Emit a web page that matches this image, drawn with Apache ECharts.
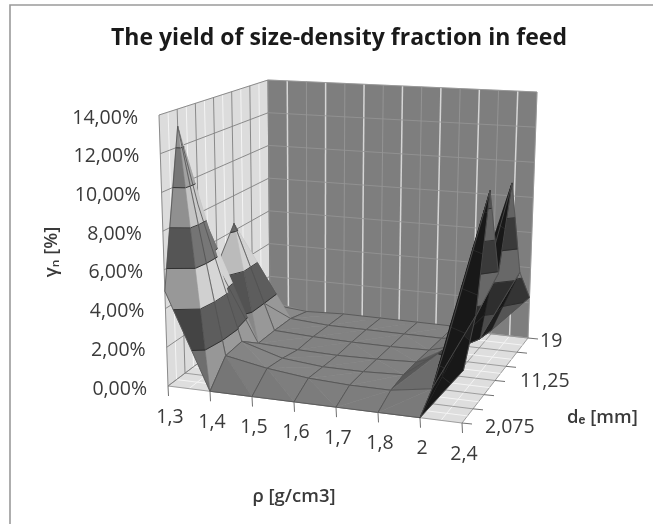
<!DOCTYPE html>
<html>
<head>
<meta charset="utf-8">
<style>html,body{margin:0;padding:0;background:#fff}#c{width:653px;height:524px;filter:blur(0.45px)}</style>
<script src="https://cdn.jsdelivr.net/npm/echarts@6/dist/echarts.min.js"></script>
</head>
<body>
<div id="c"></div>
<script>
// --- data -------------------------------------------------------------
const titleText = 'The yield of size-density fraction in feed';
const rhoLabels = ['1,3','1,4','1,5','1,6','1,7','1,8','2','2,4'];
const depthLabels = ['2,075','','','11,25','','','19'];
const zTickLabels = ['0,00%','2,00%','4,00%','6,00%','8,00%','10,00%','12,00%','14,00%'];
// yield [%], one array per size class, front row first; columns follow rhoLabels
const row0 = [4.9, 0, 0, 0, 0, 0, 0, 2.8];
const row1 = [13.1, 1.2, 0.8, 0.55, 0.45, 0.45, 0.8, 5];
const row2 = [8.5, 1.3, 0.65, 0.45, 0.45, 0.55, 2.2, 11.1];
const row3 = [4.6, 0.5, 0.4, 0.35, 0.4, 0.5, 1.2, 5.9];
const row4 = [6.4, 0.5, 0.4, 0.35, 0.35, 0.4, 1, 10.2];
const row5 = [1.5, 0.45, 0.3, 0.3, 0.3, 0.3, 0.5, 4.5];
const row6 = [0.3, 0.1, 0.2, 0.2, 0.2, 0.2, 0.2, 2.3];
const rows = [row0,row1,row2,row3,row4,row5,row6];

// --- camera: screen position of the plot box corners ------------------
const floorCorners = {fl:[168,386], fr:[462,423], bl:[270,309], br:[528,338]};
const topCorners   = {fl:[159,115], fr:[469,160], bl:[268,80],  br:[537,92]};
const zMax = 14;
const nI = rhoLabels.length-1, nJ = depthLabels.length-1;
const bandGrey = [130,80,180,100,170,140,170];
const bandStep = 2;

function bil(c,u,v){
  return [0,1].map(k=>c.fl[k]*(1-u)*(1-v)+c.fr[k]*u*(1-v)+c.bl[k]*(1-u)*v+c.br[k]*u*v);
}
function proj(i,j,z){
  const u=i/nI,v=j/nJ,f=bil(floorCorners,u,v),t=bil(topCorners,u,v),h=z/zMax;
  return [f[0]+(t[0]-f[0])*h,f[1]+(t[1]-f[1])*h];
}
function clipZ(poly,level,keepAbove){
  const out=[];
  for(let k=0;k<poly.length;k++){
    const a=poly[k],b=poly[(k+1)%poly.length];
    const ai=keepAbove?a[2]>=level:a[2]<=level, bi=keepAbove?b[2]>=level:b[2]<=level;
    if(ai)out.push(a);
    if(ai!==bi){const t=(level-a[2])/(b[2]-a[2]);out.push([a[0]+(b[0]-a[0])*t,a[1]+(b[1]-a[1])*t,level]);}
  }
  return out;
}
function shade(tri,base){
  const s=p=>[p[0]/nI,p[1]/nJ*0.8,p[2]/zMax*0.5];
  const A=s(tri[0]),B=s(tri[1]),C=s(tri[2]);
  const e=[B[0]-A[0],B[1]-A[1],B[2]-A[2]],g=[C[0]-A[0],C[1]-A[1],C[2]-A[2]];
  let n=[e[1]*g[2]-e[2]*g[1],e[2]*g[0]-e[0]*g[2],e[0]*g[1]-e[1]*g[0]];
  const L=Math.hypot(n[0],n[1],n[2])||1;n=n.map(x=>x/L);if(n[2]<0)n=n.map(x=>-x);
  let f;
  if(n[0]<0){
    const away=-n[0]+Math.max(0,-n[1])*0.5;
    f=Math.max(0,1-1.3*Math.pow(away,1.5));
    if(n[1]>0.15)f=Math.max(f,0.58);       // far side of a ridge
  }else{
    f=1+0.2*n[0]+0.3*Math.min(0,n[1]);
  }
  const v=Math.min(225,Math.max(24,Math.round(base*f)));
  return 'rgb('+v+','+v+','+v+')';
}
const Z=(i,j)=>rows[j][i];
const cells=[];
for(let j=nJ-1;j>=0;j--)for(let i=0;i<nI;i++)cells.push([i,j]);

function renderCell(params,api){
  const i=api.value(0),j=api.value(1);
  const p00=[i,j,Z(i,j)],p10=[i+1,j,Z(i+1,j)],p01=[i,j+1,Z(i,j+1)],p11=[i+1,j+1,Z(i+1,j+1)];
  const scr=p=>api.coord(proj(p[0],p[1],p[2]));
  const maxZ=Math.max(p00[2],p10[2],p01[2],p11[2]);
  const useMain=(p00[2]===maxZ||p11[2]===maxZ);
  let tris=useMain?[[p00,p10,p11],[p00,p11,p01]]:[[p00,p10,p01],[p10,p11,p01]];
  const key=t=>t.reduce((s,p)=>s+p[1]/nJ-0.3*p[0]/nI,0);
  tris.sort((a,b)=>key(b)-key(a));
  const children=[];
  tris.forEach(tri=>{
    bandGrey.forEach((g,b)=>{
      const lo=b*bandStep,hi=(b+1)*bandStep;
      let poly=clipZ(clipZ(tri,lo,true),hi,false);
      if(poly.length<3)return;
      const col=shade(tri,g);
      children.push({type:'polygon',shape:{points:poly.map(scr)},style:{fill:col,stroke:col,lineWidth:0.6}});
    });
    for(let b=1;b<bandGrey.length;b++){
      const L=b*bandStep,seg=[];
      for(let k=0;k<3;k++){
        const a=tri[k],c=tri[(k+1)%3];
        if((a[2]-L)*(c[2]-L)<0){const t=(L-a[2])/(c[2]-a[2]);seg.push([a[0]+(c[0]-a[0])*t,a[1]+(c[1]-a[1])*t,L]);}
      }
      if(seg.length===2)children.push({type:'line',shape:{x1:scr(seg[0])[0],y1:scr(seg[0])[1],x2:scr(seg[1])[0],y2:scr(seg[1])[1]},style:{stroke:'#2a2a2a',lineWidth:0.9}});
    }
  });
  [[p00,p10],[p10,p11],[p11,p01],[p01,p00]].forEach(e=>{
    const a=scr(e[0]),b=scr(e[1]);
    children.push({type:'line',shape:{x1:a[0],y1:a[1],x2:b[0],y2:b[1]},style:{stroke:'#505050',lineWidth:0.8}});
  });
  return {type:'group',children};
}

function wallLine(api,a,b,color,w){
  const p=api.coord(a),q=api.coord(b);
  return {type:'line',shape:{x1:p[0],y1:p[1],x2:q[0],y2:q[1]},style:{stroke:color,lineWidth:w}};
}
function renderWalls(params,api){
  const ch=[];
  const poly=(pts,fill)=>ch.push({type:'polygon',shape:{points:pts.map(p=>api.coord(p))},style:{fill,stroke:fill,lineWidth:0.5}});
  poly([proj(0,0,0),proj(0,nJ,0),proj(0,nJ,zMax),proj(0,0,zMax)],'#dcdcdc');
  poly([proj(0,nJ,0),proj(nI,nJ,0),proj(nI,nJ,zMax),proj(0,nJ,zMax)],'#7e7e7e');
  poly([proj(0,0,0),proj(nI,0,0),proj(nI,nJ,0),proj(0,nJ,0)],'#dedede');
  for(let i=0;i<=nI;i++){
    ch.push(wallLine(api,proj(i,nJ,0),proj(i,nJ,zMax),'#969696',0.9));
    ch.push(wallLine(api,proj(i,0,0),proj(i,nJ,0),'#8c8c8c',0.8));
  }
  for(let i=0;i<nI;i++){
    ch.push(wallLine(api,proj(i+.5,nJ,0),proj(i+.5,nJ,zMax),'#d6d6d6',1.5));
    ch.push(wallLine(api,proj(i+.5,0,0),proj(i+.5,nJ,0),'#f4f4f4',1));
  }
  for(let j=0;j<nJ;j++){
    ch.push(wallLine(api,proj(0,j+.5,0),proj(0,j+.5,zMax),'#f4f4f4',1));
    ch.push(wallLine(api,proj(0,j+.5,0),proj(nI,j+.5,0),'#f4f4f4',1));
  }
  for(let j=0;j<=nJ;j++){
    ch.push(wallLine(api,proj(0,j,0),proj(0,j,zMax),'#808080',0.9));
    ch.push(wallLine(api,proj(0,j,0),proj(nI,j,0),'#8c8c8c',0.8));
  }
  zTickLabels.forEach((t,k)=>{
    const z=k*bandStep;
    ch.push(wallLine(api,proj(0,0,z),proj(0,nJ,z),'#808080',0.9));
    ch.push(wallLine(api,proj(0,nJ,z),proj(nI,nJ,z),'#959595',0.8));
  });
  return {type:'group',children:ch};
}
const labelColor='#3a3a3a', labelFont='"Open Sans",sans-serif';
function txt(p,text,align,extra){
  return {type:'text',x:p[0],y:p[1],style:Object.assign({text,fill:labelColor,font:'19.5px '+labelFont,align,verticalAlign:'middle'},extra||{})};
}
function renderAxes(params,api){
  const ch=[];
  rhoLabels.forEach((t,i)=>{
    const a=proj(i,0,0);
    ch.push(wallLine(api,a,[a[0]+0.5,a[1]+10],'#707070',1));
    const c=api.coord(a);
    ch.push(txt([c[0]+2,c[1]+31],t,'center'));
  });
  depthLabels.forEach((t,j)=>{
    const a=proj(nI,j,0);
    ch.push(wallLine(api,a,[a[0]+10,a[1]+1],'#707070',1));
    if(t){
      const c=api.coord(a);
      ch.push(txt([c[0]+(j===6?12:j===3?25:23),c[1]+(j===6?3:j===3?1:4)],t,'left'));
    }
  });
  zTickLabels.forEach((t,k)=>{
    const c=api.coord(proj(0,0,k*bandStep));
    ch.push(txt([c[0]-21,c[1]+3],t,'right'));
  });
  const bold={font:'600 18.5px '+labelFont};
  ch.push(txt([294,497],'ρ [g/cm3]','center',bold));
  ch.push({type:'text',x:52,y:252,rotation:Math.PI/2,style:{text:'γₙ [%]',fill:labelColor,font:'600 18.5px '+labelFont,align:'center',verticalAlign:'middle'}});
  ch.push(txt([567,418],'dₑ [mm]','left',bold));
  return {type:'group',children:ch};
}

const chart=echarts.init(document.getElementById('c'),null,{renderer:'canvas'});
chart.setOption({
  animation:false,
  backgroundColor:'#fff',
  title:{text:titleText,left:334,textAlign:'center',top:22,textStyle:{fontFamily:'"Open Sans",sans-serif',fontSize:23,fontWeight:'bold',color:'#1a1a1a'}},
  grid:{left:0,right:0,top:0,bottom:0},
  xAxis:{type:'value',min:0,max:653,show:false},
  yAxis:{type:'value',min:0,max:524,inverse:true,show:false},
  graphic:[{type:'polyline',silent:true,shape:{points:[[10,524],[10,5],[653,5]]},style:{stroke:'#9a9a9a',lineWidth:1.6,fill:null}}],
  series:[
    {type:'custom',coordinateSystem:'cartesian2d',clip:false,silent:true,data:[[0]],renderItem:renderWalls,z:1},
    {type:'custom',coordinateSystem:'cartesian2d',clip:false,silent:true,data:cells,renderItem:renderCell,z:2,encode:{x:0,y:1}},
    {type:'custom',coordinateSystem:'cartesian2d',clip:false,silent:true,data:[[0]],renderItem:renderAxes,z:3}
  ]
});
</script>
</body>
</html>
